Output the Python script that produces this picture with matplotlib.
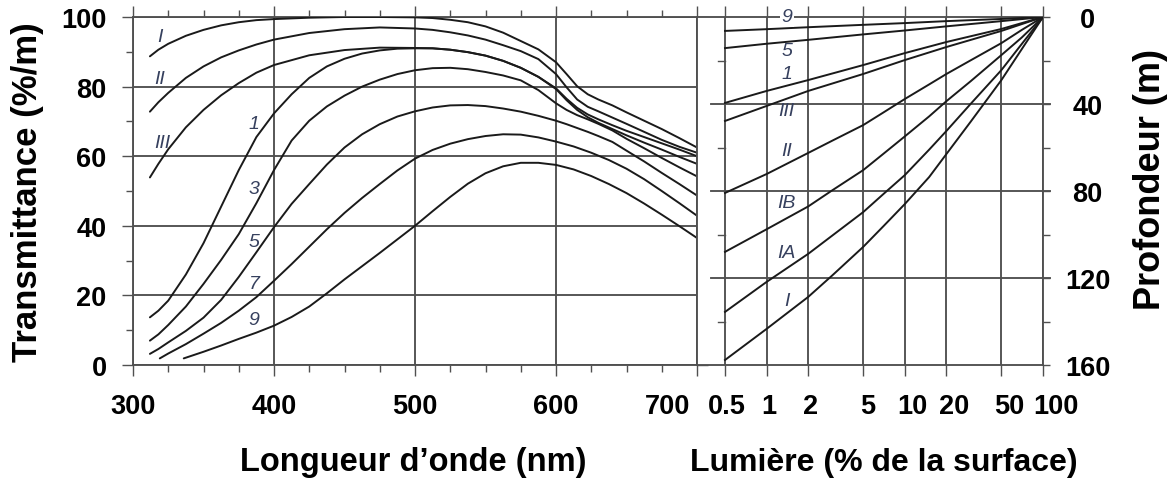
import matplotlib
matplotlib.use("Agg")
import matplotlib.pyplot as plt
import matplotlib.transforms as mtransforms
from matplotlib.ticker import FixedLocator, FixedFormatter, NullFormatter

plt.rcParams['font.family'] = ['Liberation Sans', 'DejaVu Sans']

# ---------------- spectral transmittance of water (% per metre) ----------------
wavelength = [312, 318, 325, 337.5, 350, 362.5, 375, 387.5, 400, 425, 450, 475, 500,
              512.5, 525, 537.5, 550, 562.5, 575, 587.5, 600, 607.5, 615, 622.5, 630,
              640, 650, 662.5, 675, 687.5, 700]
trans_I = [88.7, 90.6, 92.3, 94.6, 96.3, 97.6, 98.5, 99.1, 99.4, 99.8, 100.0, 100.0, 99.9,
           99.7, 99.2, 98.5, 97.3, 95.5, 93.1, 90.7, 87.0, 83.6, 80.1, 77.8, 76.3,
           74.6, 72.6, 70.2, 67.8, 65.2, 62.5]
trans_II = [72.8, 75.5, 78.2, 82.5, 85.8, 88.4, 90.4, 92.1, 93.5, 95.4, 96.5, 97.0, 96.7,
            96.3, 95.6, 94.7, 93.5, 91.9, 90.2, 87.9, 83.6, 79.8, 76.3, 74.2, 72.9,
            71.1, 69.3, 67.0, 64.7, 62.7, 61.0]
trans_III = [53.9, 57.8, 62.0, 68.3, 73.3, 77.5, 81.0, 84.0, 86.2, 89.0, 90.5, 91.2, 91.1,
             91.0, 90.6, 89.9, 88.9, 87.4, 85.4, 82.8, 79.5, 76.5, 73.9, 72.0, 70.6,
             68.9, 67.3, 65.5, 63.7, 61.9, 60.0]

wavelength_c = [312, 318, 325, 337.5, 350, 362.5, 375, 387.5, 400, 412.5, 425, 437.5, 450,
                462.5, 475, 487.5, 500, 512.5, 525, 537.5, 550, 562.5, 575, 587.5, 600,
                607.5, 615, 622.5, 630, 640, 650, 662.5, 675, 687.5, 700]
trans_1 = [13.7, 15.6, 18.5, 26.0, 35.0, 45.5, 56.0, 65.5, 72.3, 77.8, 82.5, 85.8, 88.0,
           89.5, 90.4, 90.9, 91.0, 91.0, 90.6, 89.9, 88.9, 87.4, 85.4, 82.8, 79.3,
           76.1, 73.3, 71.2, 69.6, 67.8, 66.0, 63.9, 61.9, 59.8, 57.8]
trans_3 = [7.0, 8.8, 11.5, 16.8, 23.3, 30.2, 37.6, 46.5, 56.0, 64.5, 70.2, 74.3, 77.4,
           80.0, 82.0, 83.6, 84.7, 85.3, 85.4, 85.0, 84.2, 83.2, 81.8, 79.0, 75.2,
           73.3, 71.8, 70.6, 69.3, 67.4, 65.0, 62.3, 59.5, 56.8, 54.2]
trans_5 = [3.2, 4.6, 6.5, 9.8, 13.6, 18.7, 25.3, 32.4, 39.6, 46.3, 52.0, 57.6, 62.5,
           66.3, 69.2, 71.4, 72.9, 74.0, 74.6, 74.7, 74.4, 73.7, 72.8, 71.6, 70.2,
           69.2, 68.1, 67.0, 65.8, 64.1, 61.6, 58.5, 55.2, 52.0, 48.7]
wavelength_7 = [319, 325, 337.5, 350, 362.5, 375, 387.5, 400, 412.5, 425, 437.5, 450, 462.5,
                475, 487.5, 500, 512.5, 525, 537.5, 550, 562.5, 575, 587.5, 600, 612.5,
                625, 637.5, 650, 662.5, 675, 687.5, 700]
trans_7 = [1.9, 3.3, 6.0, 9.0, 12.1, 15.6, 19.5, 24.2, 29.0, 34.0, 39.0, 43.7, 48.0,
           52.0, 55.9, 59.3, 61.8, 63.6, 64.9, 65.8, 66.3, 66.2, 65.4, 64.2, 62.8,
           61.0, 58.9, 56.4, 53.4, 50.0, 46.5, 42.9]
wavelength_9 = [336, 350, 362.5, 375, 387.5, 400, 412.5, 425, 437.5, 450, 462.5, 475, 487.5,
                500, 512.5, 525, 537.5, 550, 562.5, 575, 587.5, 600, 612.5, 625, 637.5,
                650, 662.5, 675, 687.5, 700]
trans_9 = [1.9, 3.8, 5.6, 7.5, 9.3, 11.3, 13.8, 16.8, 20.6, 24.6, 28.4, 32.2, 36.1,
           40.0, 44.2, 48.3, 52.1, 55.1, 57.1, 58.1, 58.1, 57.5, 56.2, 54.3, 52.0,
           49.4, 46.4, 43.2, 39.9, 36.5]

# ---------------- depth reached by a given fraction of surface light ----------------
light = [0.5, 1, 2, 5, 10, 20, 50, 100]
depth_9 = [6.4, 5.6, 4.7, 3.6, 2.8, 1.9, 0.9, 0]
depth_5 = [14.3, 12.3, 10.5, 8.0, 6.2, 4.3, 1.9, 0]
depth_1 = [39.5, 34.0, 29.0, 22.1, 16.6, 11.5, 5.5, 0]
depth_III = [47.8, 40.9, 34.0, 26.2, 19.8, 13.8, 6.4, 0]
light_fine = [0.5, 1, 2, 3, 5, 7, 10, 15, 20, 30, 50, 70, 100]
depth_II = [80.9, 72.2, 62.5, 56.8, 49.7, 43.9, 37.7, 31.0, 26.2, 19.9, 12.0, 6.0, 0]
depth_IB = [108.0, 97.6, 87.1, 79.6, 70.4, 62.9, 54.9, 45.7, 38.7, 29.5, 17.5, 9.5, 0]
depth_IA = [135.6, 121.8, 108.9, 100.4, 89.7, 81.4, 72.7, 61.0, 52.4, 39.9, 24.4, 12.5, 0]
depth_I = [157.7, 143.4, 128.7, 118.7, 105.7, 96.2, 86.0, 73.6, 63.0, 48.1, 29.0, 14.9, 0]

wl_ticks = [300, 400, 500, 600, 700]
tr_ticks = [0, 20, 40, 60, 80, 100]
light_ticks = [0.5, 1, 2, 5, 10, 20, 50, 100]
light_labels = ['0.5', '1', '2', '5', '10', '20', '50', '100']
depth_ticks = [0, 40, 80, 120, 160]

# ---------------- styling ----------------
W, H = 1176, 481
GRID = '#505050'
CURVE = '#1a1a1a'
LABEL_C = '#36405e'
GLW = 1.35
CLW = 1.4
TICK_FS = 19.5
CURVE_FS = 14

fig = plt.figure(figsize=(W / 100, H / 100), dpi=100)
fig.patch.set_facecolor('white')


def rect(x0, y0, x1, y1):
    return [x0 / W, 1 - y1 / H, (x1 - x0) / W, (y1 - y0) / H]


ax1 = fig.add_axes(rect(133, 18, 697, 366))
ax2 = fig.add_axes(rect(697, 18, 1043, 366))

# ---------- left panel: transmittance vs wavelength ----------
for wl, tr in [(wavelength, trans_I), (wavelength, trans_II), (wavelength, trans_III),
               (wavelength_c, trans_1), (wavelength_c, trans_3), (wavelength_c, trans_5),
               (wavelength_7, trans_7), (wavelength_9, trans_9)]:
    ax1.plot(wl, tr, color=CURVE, lw=CLW, solid_joinstyle='round',
             solid_capstyle='round', zorder=3)

ax1.set_xlim(300, 700)
ax1.set_ylim(0, 100)
ax1.xaxis.set_major_locator(FixedLocator(wl_ticks))
ax1.xaxis.set_minor_locator(FixedLocator([v for v in range(325, 700, 25) if v % 100]))
ax1.yaxis.set_major_locator(FixedLocator(tr_ticks))
ax1.yaxis.set_minor_locator(FixedLocator([10, 30, 50, 70, 90]))
ax1.xaxis.set_major_formatter(FixedFormatter([str(v) for v in wl_ticks]))
ax1.yaxis.set_major_formatter(FixedFormatter([str(v) for v in tr_ticks]))
ax1.grid(True, which='major', color=GRID, lw=GLW, zorder=1)
ax1.tick_params(which='both', direction='out', color=GRID, width=1.0,
                top=True, right=True, bottom=True, left=True)
ax1.tick_params(which='major', length=8)
ax1.tick_params(which='minor', length=5)
ax1.tick_params(axis='x', which='major', labelsize=TICK_FS, pad=12)
ax1.tick_params(axis='y', which='major', labelsize=TICK_FS, pad=11)
for lbl in ax1.get_xticklabels() + ax1.get_yticklabels():
    lbl.set_fontweight('bold')
for sp in ax1.spines.values():
    sp.set_color(GRID)
    sp.set_linewidth(GLW)

# "700" sits left of its tick so it clears the "0.5" of the next panel
lbl700 = ax1.get_xticklabels()[-1]
lbl700.set_horizontalalignment('right')
lbl700.set_transform(lbl700.get_transform() +
                     mtransforms.ScaledTranslation(-0.07, 0, fig.dpi_scale_trans))

left_labels = [('I', 319, 94.5), ('II', 319, 82.2), ('III', 320.5, 64.0),
               ('1', 386, 69.3), ('3', 386, 50.6), ('5', 386, 35.4),
               ('7', 386, 23.4), ('9', 386, 13.2)]
for txt, x, y in left_labels:
    ax1.text(x, y, txt, fontsize=CURVE_FS, style='italic', color=LABEL_C,
             ha='center', va='center', zorder=4)

ax1.set_ylabel('Transmittance (%/m)', fontsize=25, fontweight='bold')
ax1.yaxis.set_label_coords((28 - 133) / 564, (366 - 192) / 348)
ax1.yaxis.label.set_va('center')
ax1.set_xlabel('Longueur d\u2019onde (nm)', fontsize=23.5, fontweight='bold')
ax1.xaxis.set_label_coords((413 - 133) / 564, (366 - 463) / 348)
ax1.xaxis.label.set_va('center')

# ---------- right panel: depth vs percentage of surface light ----------
for lx, dep in [(light, depth_9), (light, depth_5), (light, depth_1), (light, depth_III),
                (light_fine, depth_II), (light_fine, depth_IB), (light_fine, depth_IA),
                (light_fine, depth_I)]:
    ax2.plot(lx, dep, color=CURVE, lw=CLW, solid_joinstyle='round', zorder=3)

ax2.set_xscale('log')
px_per_decade = (1043 - 725) / 2.30103
ax2.set_xlim(0.5 / 10 ** (28 / px_per_decade), 100)
ax2.set_ylim(160, 0)
ax2.xaxis.set_major_locator(FixedLocator(light_ticks))
ax2.xaxis.set_minor_locator(FixedLocator([]))
ax2.xaxis.set_major_formatter(FixedFormatter(light_labels))
ax2.xaxis.set_minor_formatter(NullFormatter())
ax2.yaxis.set_major_locator(FixedLocator(depth_ticks))
ax2.yaxis.set_minor_locator(FixedLocator([20, 60, 100, 140]))
ax2.yaxis.set_major_formatter(FixedFormatter([str(v) for v in depth_ticks]))
ax2.yaxis.tick_right()
ax2.grid(True, axis='x', which='major', color=GRID, lw=GLW, zorder=1)
ax2.tick_params(axis='x', which='major', direction='out', length=8, color=GRID, width=1.0,
                top=True, bottom=True, labelsize=TICK_FS, pad=12)
ax2.tick_params(axis='y', which='both', direction='out', length=5, color=GRID, width=1.0,
                left=False, right=True, labelleft=False, labelright=True)
ax2.tick_params(axis='y', which='major', labelsize=TICK_FS, pad=27)
for t in ax2.yaxis.get_major_ticks():
    t.label2.set_horizontalalignment('center')
    t.label2.set_fontweight('bold')
for lbl in ax2.get_xticklabels():
    lbl.set_fontweight('bold')
for sp in ax2.spines.values():
    sp.set_color(GRID)
    sp.set_linewidth(GLW)

# small horizontal nudges for the light-axis labels
nudges = [2, 2, 2, 4, 8, 8, 8, 13]
for lbl, dx in zip(ax2.get_xticklabels(), nudges):
    lbl.set_transform(lbl.get_transform() +
                      mtransforms.ScaledTranslation(dx / 100, 0, fig.dpi_scale_trans))

# horizontal depth gridlines, running slightly past both frames
x_in = (711 - 697) / 346
x_out = (1050 - 697) / 346
for d in [40, 80, 120]:
    ax2.axhline(d, xmin=x_in, xmax=x_out, color=GRID, lw=GLW, clip_on=False, zorder=1)
for d in [20, 60, 100, 140]:
    ax2.axhline(d, xmin=(718 - 697) / 346, xmax=(725 - 697) / 346, color=GRID,
                lw=1.0, clip_on=False, zorder=1)

right_labels = [('9', 0.0), ('5', 15.3), ('1', 26.2), ('III', 43.1), ('II', 61.5),
                ('IB', 85.5), ('IA', 108.5), ('I', 130.4)]
for txt, d in right_labels:
    kw = {}
    if txt == '9' and d == 0.0:
        kw['bbox'] = dict(facecolor='white', edgecolor='none', pad=1.0)
    ax2.text(1.40, d, txt, fontsize=CURVE_FS, style='italic', color=LABEL_C,
             ha='center', va='center', zorder=5, clip_on=False, **kw)

ax2.set_xlabel('Lumi\u00e8re (% de la surface)', fontsize=23, fontweight='bold')
ax2.xaxis.set_label_coords((884 - 697) / 346, (366 - 463) / 348)
ax2.xaxis.label.set_va('center')
ax2.set_ylabel('Profondeur (m)', fontsize=26, fontweight='bold', rotation=90)
ax2.yaxis.set_label_position('right')
ax2.yaxis.set_label_coords((1150 - 697) / 346, (366 - 180) / 348)
ax2.yaxis.label.set_va('center')
ax2.yaxis.label.set_rotation(90)

fig.savefig('out.png', dpi=100, facecolor='white')
